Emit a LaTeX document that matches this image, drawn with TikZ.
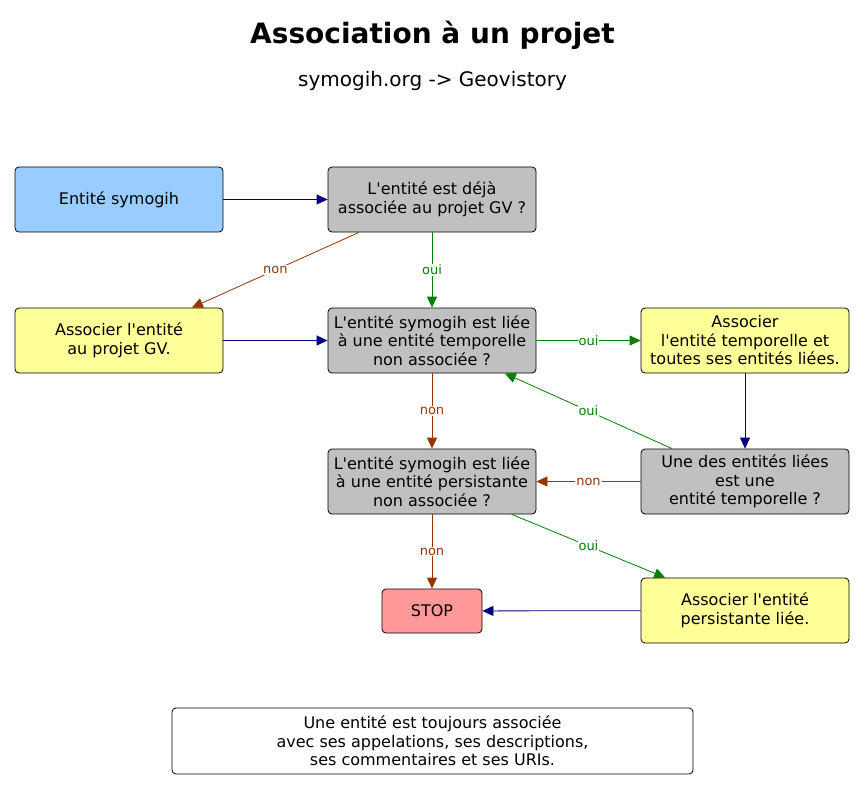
\documentclass[tikz,border=0pt]{standalone}
\usepackage{fontspec}
\setmainfont{DejaVu Sans}[Ligatures=TeXOff]
\usetikzlibrary{arrows.meta}

\definecolor{startcol}{HTML}{99CCFF}
\definecolor{askcol}{HTML}{C0C0C0}
\definecolor{actcol}{HTML}{FFFF99}
\definecolor{stopcol}{HTML}{FF9999}
\definecolor{flowcol}{HTML}{000080}
\definecolor{yescol}{HTML}{008000}
\definecolor{nocol}{HTML}{993300}

\begin{document}
\begin{tikzpicture}[x=1pt,y=-1pt,->,>={Triangle[length=11pt,width=10pt]},line width=0.8pt,
  main node/.style={rectangle,rounded corners=4pt,draw=black,align=center,minimum width=208pt,minimum height=65pt,inner sep=2pt,font=\fontsize{16}{18.5}\selectfont},
  start node/.style={main node,fill=startcol},
  ask node/.style={main node,fill=askcol},
  act node/.style={main node,fill=actcol},
  stop node/.style={main node,fill=stopcol,minimum width=100pt,minimum height=44pt},
  note node/.style={main node,fill=white,minimum width=521pt,minimum height=66pt},
  flow edge/.style={color=flowcol},
  yes edge/.style={color=yescol},
  no edge/.style={color=nocol}]
  \useasboundingbox (0,0) rectangle (865,789);

  \node[anchor=base,font=\fontsize{28}{32}\selectfont\bfseries] (title) at (432.5,44) {Association à un projet};
  \node[anchor=base,font=\fontsize{20}{24}\selectfont] (subtitle) at (432.5,87) {symogih.org -> Geovistory};

  \node[start node] (1) at (119,199.5) {Entité symogih};
  \node[ask node] (2) at (432,199.5) {L'entité est déjà\\associée au projet GV ?};
  \node[act node] (3) at (119,340.5) {Associer l'entité\\au projet GV.};
  \node[ask node] (4) at (432,340.5) {L'entité symogih est liée\\à une entité temporelle\\non associée ?};
  \node[act node] (5) at (745,340.5) {Associer\\l'entité temporelle et\\toutes ses entités liées.};
  \node[ask node] (6) at (745,481.5) {Une des entités liées\\est une\\entité temporelle ?};
  \node[ask node] (7) at (432,481.5) {L'entité symogih est liée\\à une entité persistante\\non associée ?};
  \node[stop node] (8) at (432,611) {STOP};
  \node[act node] (9) at (745,610.5) {Associer l'entité\\persistante liée.};
  \node[note node] (10) at (432.5,741) {Une entité est toujours associée\\avec ses appelations, ses descriptions,\\ses commentaires et ses URIs.};

\path[every node/.style={font=\fontsize{13}{15}\selectfont,fill=white,inner sep=1pt}]
  (1) edge[flow edge] (2)
  (2) edge[no edge] node {non} (3)
  (2) edge[yes edge] node {oui} (4)
  (3) edge[flow edge] (4)
  (4) edge[yes edge] node {oui} (5)
  (5) edge[flow edge] (6)
  (6) edge[yes edge] node {oui} (4)
  (4) edge[no edge] node {non} (7)
  (6) edge[no edge] node {non} (7)
  (7) edge[no edge] node {non} (8)
  (7) edge[yes edge] node {oui} (9)
  (9) edge[flow edge] (8)
;
\end{tikzpicture}
\end{document}
